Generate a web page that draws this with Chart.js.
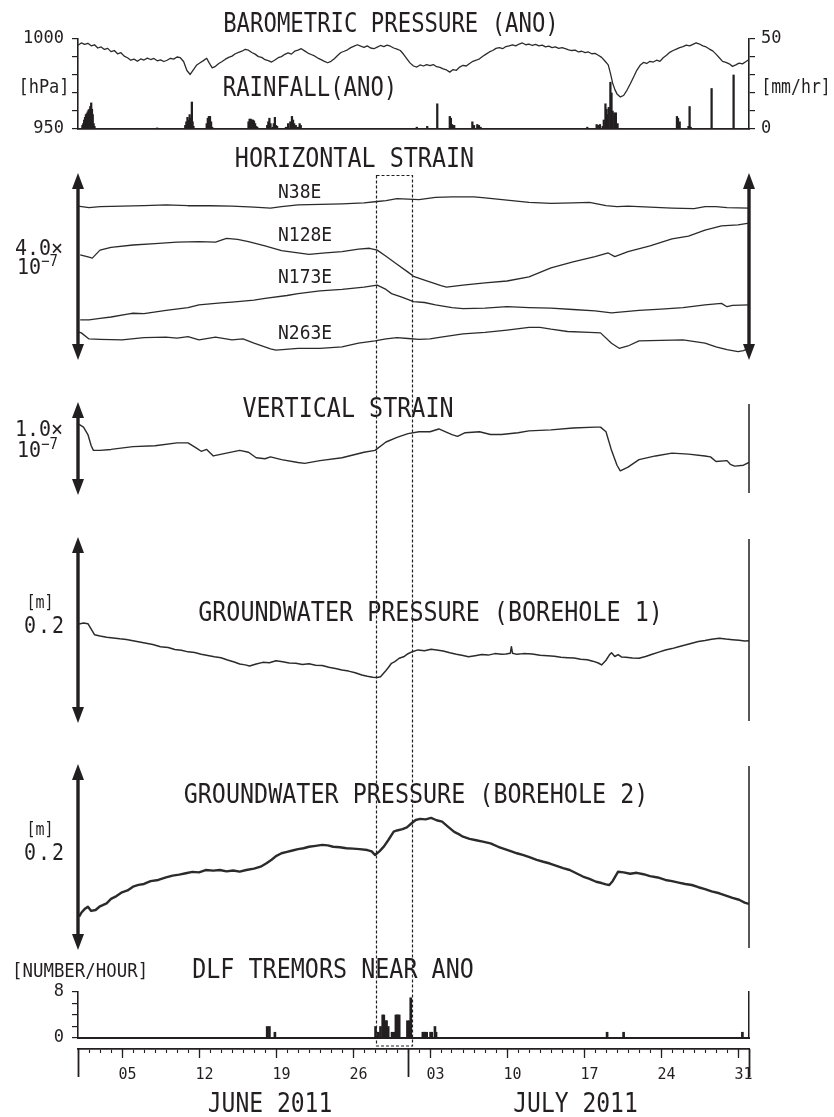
<!DOCTYPE html>
<html><head><meta charset="utf-8">
<script src="https://cdn.jsdelivr.net/npm/chart.js@4"></script>
<style>
html,body{margin:0;padding:0;background:#fff;}
#page{position:relative;width:834px;height:1117px;overflow:hidden;background:#fff;}
canvas{position:absolute;left:0;}
.t{position:absolute;font-family:'DejaVu Sans Mono',monospace;color:#231f20;white-space:nowrap;line-height:1;}
.c{transform:translate(-50%,-50%) scaleY(1.16);}
.l{transform:translate(0,-50%) scaleY(1.08);}
sup{font-size:0.7em;vertical-align:0.55em;}
</style></head>
<body><div id="page">
<canvas id="cTop" width="834" height="150" style="top:0"></canvas>
<canvas id="cHs" width="834" height="230" style="top:140px"></canvas>
<canvas id="cVs" width="834" height="130" style="top:375px"></canvas>
<canvas id="cGw1" width="834" height="215" style="top:520px"></canvas>
<canvas id="cGw2" width="834" height="220" style="top:740px"></canvas>
<canvas id="cTr" width="834" height="100" style="top:960px"></canvas>
<canvas id="cAxMinor" width="834" height="77" style="top:1040px"></canvas>
<canvas id="cAxMajor" width="834" height="77" style="top:1040px"></canvas>
<canvas id="cAxLong" width="834" height="77" style="top:1040px"></canvas>

<div class="t c" style="left:391px;top:23px;font-size:22.3px">BAROMETRIC PRESSURE (ANO)</div>
<div class="t c" style="left:310px;top:87px;font-size:22.3px">RAINFALL(ANO)</div>
<div class="t c" style="left:44px;top:87px;font-size:17px">[hPa]</div>
<div class="t c" style="left:796px;top:87px;font-size:16.5px">[mm/hr]</div>

<div class="t c" style="left:354.5px;top:159px;font-size:23.4px">HORIZONTAL STRAIN</div>
<div class="t l" style="left:278px;top:192px;font-size:18px">N38E</div>
<div class="t l" style="left:278px;top:235px;font-size:18px">N128E</div>
<div class="t l" style="left:278px;top:277px;font-size:18px">N173E</div>
<div class="t l" style="left:278px;top:333px;font-size:18px">N263E</div>
<div class="t l" style="left:15px;top:247px;font-size:20px">4.0×</div>
<div class="t l" style="left:17px;top:265px;font-size:20px">10<sup>−7</sup></div>

<div class="t c" style="left:348px;top:408.5px;font-size:23.4px">VERTICAL STRAIN</div>
<div class="t l" style="left:15px;top:428px;font-size:20px">1.0×</div>
<div class="t l" style="left:17px;top:448px;font-size:20px">10<sup>−7</sup></div>

<div class="t c" style="left:430.5px;top:613px;font-size:23.4px">GROUNDWATER PRESSURE (BOREHOLE 1)</div>
<div class="t c" style="left:40px;top:603px;font-size:15px">[m]</div>
<div class="t c" style="left:45px;top:625px;font-size:20px;letter-spacing:2px">0.2</div>

<div class="t c" style="left:416px;top:795px;font-size:23.4px">GROUNDWATER PRESSURE (BOREHOLE 2)</div>
<div class="t c" style="left:40px;top:830px;font-size:15px">[m]</div>
<div class="t c" style="left:45px;top:852px;font-size:20px;letter-spacing:2px">0.2</div>

<div class="t l" style="left:12px;top:970.5px;font-size:17.4px">[NUMBER/HOUR]</div>
<div class="t c" style="left:333px;top:970px;font-size:23.4px">DLF TREMORS NEAR ANO</div>

<div class="t c" style="left:270px;top:1103px;font-size:23px">JUNE 2011</div>
<div class="t c" style="left:575.5px;top:1103px;font-size:23px">JULY 2011</div>

<canvas id="boxLayer" width="834" height="1117" style="top:0;pointer-events:none"></canvas>
</div>
<script>
// ---------------- DATA (time in days since 2011-06-01 00:00) ----------------
const X_MIN = 0, X_MAX = 61;
const majorTickDays = [4, 11, 18, 25, 32, 39, 46, 53, 60];
const majorTickLabels = ['05', '12', '19', '26', '03', '10', '17', '24', '31'];
const monthBoundaryDays = [0, 30, 61];
const pressureTickValues = [950, 960, 970, 980, 990, 1000];
const pressureTickLabels = ['950', '', '', '', '', '1000'];
const rainTickValues = [0, 10, 20, 30, 40, 50];
const rainTickLabels = ['0', '', '', '', '', '50'];
const tremorTickValues = [0, 2, 4, 6, 8];
const tremorTickLabels = ['0', '', '', '', '8'];
const boxStartDay = 27.1, boxEndDay = 30.4;

// barometric pressure [day, hPa]
const baroPressure = [[0.0,996.5],[0.3,997.8],[0.6,997.0],[0.9,997.6],[1.2,996.2],[1.5,996.8],[1.8,995.0],[2.1,995.6],[2.4,994.2],[2.7,994.8],[3.0,993.0],[3.3,993.6],[3.6,991.8],[3.9,992.4],[4.2,990.5],[4.5,989.6],[4.8,988.2],[5.1,988.8],[5.4,987.6],[5.7,988.9],[6.0,988.3],[6.3,989.4],[6.6,988.6],[6.9,989.2],[7.2,987.9],[7.5,988.4],[7.8,987.5],[8.1,988.2],[8.4,989.3],[8.7,988.8],[9.0,990.0],[9.3,989.6],[9.6,987.5],[9.9,982.5],[10.2,980.3],[10.5,983.0],[10.8,985.6],[11.1,986.8],[11.4,988.0],[11.7,989.3],[11.9,987.0],[12.2,984.0],[12.5,984.8],[12.8,986.4],[13.1,987.5],[13.4,988.8],[13.7,989.8],[14.0,990.5],[14.3,991.8],[14.6,992.6],[14.9,993.2],[15.2,994.3],[15.5,993.8],[15.8,992.5],[16.1,991.6],[16.4,990.2],[16.7,989.8],[17.0,988.5],[17.3,988.0],[17.6,987.2],[17.9,988.3],[18.2,989.6],[18.5,990.2],[18.8,991.5],[19.1,992.3],[19.4,991.6],[19.7,993.2],[20.0,993.8],[20.3,994.6],[20.6,993.4],[20.9,992.2],[21.2,991.4],[21.5,990.6],[21.8,989.4],[22.1,988.5],[22.4,987.6],[22.7,986.8],[23.0,987.6],[23.3,989.0],[23.6,990.8],[23.9,992.5],[24.2,993.2],[24.5,994.0],[24.8,995.2],[25.1,996.0],[25.4,996.8],[25.7,996.0],[26.0,995.4],[26.3,996.2],[26.6,995.0],[26.9,994.6],[27.2,995.5],[27.5,996.4],[27.8,995.8],[28.1,996.6],[28.4,996.0],[28.7,995.0],[29.0,994.4],[29.3,993.6],[29.6,991.5],[29.9,989.0],[30.2,986.6],[30.5,985.0],[30.8,984.4],[31.1,985.6],[31.4,985.0],[31.7,985.8],[32.0,985.2],[32.3,985.8],[32.6,984.6],[32.9,984.2],[33.2,983.4],[33.5,982.8],[33.8,981.6],[34.1,983.0],[34.4,982.6],[34.7,984.4],[35.0,985.4],[35.3,985.0],[35.6,986.4],[35.9,987.6],[36.2,988.2],[36.5,989.0],[36.8,990.4],[37.1,991.6],[37.4,992.8],[37.7,993.6],[38.0,994.8],[38.3,995.2],[38.6,994.6],[38.9,995.8],[39.2,996.2],[39.5,996.8],[39.8,996.2],[40.1,997.2],[40.4,997.8],[40.7,996.8],[41.0,997.2],[41.3,996.4],[41.6,997.0],[41.9,996.2],[42.2,996.6],[42.5,995.6],[42.8,996.0],[43.1,995.2],[43.4,995.6],[43.7,994.8],[44.0,995.2],[44.3,994.6],[44.6,994.0],[44.9,993.6],[45.2,993.8],[45.5,992.8],[45.8,993.2],[46.1,992.4],[46.4,992.8],[46.7,991.8],[47.0,992.0],[47.3,991.0],[47.6,989.8],[47.9,987.8],[48.2,985.6],[48.4,981.0],[48.6,975.6],[48.8,972.0],[49.0,969.5],[49.3,967.8],[49.6,968.6],[49.9,971.5],[50.2,975.0],[50.5,978.8],[50.8,982.6],[51.1,985.4],[51.4,987.0],[51.7,986.4],[52.0,987.6],[52.3,987.2],[52.6,988.2],[52.9,987.6],[53.2,989.6],[53.5,991.0],[53.8,992.6],[54.1,993.6],[54.4,994.4],[54.7,995.2],[55.0,995.8],[55.3,996.6],[55.6,996.2],[55.9,997.0],[56.2,997.8],[56.5,997.2],[56.8,996.2],[57.1,995.6],[57.4,994.4],[57.7,993.4],[58.0,991.6],[58.3,989.6],[58.6,987.6],[58.9,987.0],[59.2,986.2],[59.5,984.8],[59.8,985.6],[60.1,986.6],[60.4,986.2],[60.7,987.4],[61.0,988.6]];

// hourly rainfall [day, mm/hr]
const rainfall = [[0.40,2],[0.48,3],[0.56,5],[0.64,6.5],[0.72,8],[0.80,8.5],[0.88,9.5],[0.96,10.5],[1.04,11],[1.12,12.5],[1.20,14.5],[1.27,11],[1.34,8],[1.42,3],[1.50,1.5],
 [7.2,0.6],
 [9.75,2],[9.85,4],[9.95,6.5],[10.05,5],[10.15,8],[10.25,6],[10.35,15],[10.42,4],[10.5,1.5],
 [11.7,3],[11.8,6],[11.9,7],[12.0,7],[12.1,4],[12.2,1],
 [15.5,4],[15.6,5.5],[15.7,5.5],[15.8,5],[15.9,5],[16.0,4.5],[16.1,3],[16.2,1.5],[16.3,1],
 [17.2,2],[17.3,4],[17.4,6],[17.5,3],[17.7,1],[17.8,3],[17.9,6.5],[18.0,2],[18.1,1.5],
 [18.9,1],[19.1,3],[19.3,4],[19.45,7],[19.55,5],[19.65,3],[19.8,2],[20.0,1],[20.15,3],[20.25,2],
 [30.8,1],[31.75,1.5],[32.66,14],
 [33.8,7],[33.9,6],[34.0,2.5],[34.1,2],[34.2,2],
 [35.85,4],[36.0,2],[36.3,2.5],[36.45,2],[36.6,1],
 [46.3,1],[47.15,2.5],[47.3,2],[47.45,2.5],
 [47.7,1.5],[47.8,5],[47.95,14],[48.05,11],[48.15,8],[48.25,12],[48.4,26],[48.5,20],[48.6,10],[48.75,9],[48.9,9],[49.05,3],
 [54.45,7],[54.55,6],[54.7,4],[55.5,1.5],[55.6,12.5],[55.7,1],
 [57.6,22.5],[59.6,30]];

// horizontal strain components [day, strain x1e-7, panel offset]
const strainN38E = [[0,3.29],[1,3.26],[2,3.28],[4,3.29],[6,3.30],[8,3.32],[10,3.30],[12,3.30],[14,3.29],[16,3.27],[17.5,3.25],[18.5,3.28],[20,3.32],[22,3.33],[24,3.34],[26,3.36],[27.2,3.39],[28,3.41],[29,3.45],[30,3.44],[31,3.43],[32.5,3.48],[34,3.49],[36,3.49],[37,3.47],[39,3.42],[41,3.37],[43,3.35],[45,3.36],[46.5,3.37],[48,3.30],[49,3.28],[50,3.29],[52,3.27],[54,3.25],[56,3.24],[57,3.28],[58,3.28],[59,3.26],[61,3.25]];
const strainN128E = [[0.2,2.25],[1,2.20],[1.3,2.18],[2,2.35],[3,2.41],[5,2.46],[7,2.49],[9,2.52],[11,2.53],[12.5,2.52],[13.5,2.60],[14.5,2.58],[15.5,2.53],[17,2.44],[18.5,2.34],[20,2.29],[21,2.26],[22.5,2.29],[24,2.32],[25.5,2.37],[26.5,2.39],[27.2,2.35],[28,2.22],[29,2.05],[30,1.88],[30.5,1.79],[31.5,1.71],[33,1.59],[33.5,1.56],[35,1.60],[37,1.65],[39,1.69],[41,1.78],[43,1.97],[45,2.10],[47,2.21],[48.2,2.29],[48.8,2.21],[50,2.32],[52,2.44],[54,2.59],[55.5,2.65],[57,2.78],[58.5,2.87],[60,2.89],[61,2.93]];
const strainN173E = [[0.2,0.86],[1,0.86],[2,0.89],[3,0.92],[4.5,0.98],[5,1.00],[6,0.99],[8,1.06],[10,1.12],[11,1.18],[13,1.22],[14,1.24],[16,1.28],[17,1.32],[19,1.38],[20,1.42],[22,1.48],[24,1.51],[26,1.56],[27.2,1.60],[28,1.51],[28.5,1.42],[29.5,1.34],[30.5,1.25],[31.5,1.23],[32.5,1.18],[34,1.12],[35,1.10],[37,1.11],[39,1.14],[41,1.12],[43,1.11],[45,1.08],[47,1.05],[48.5,1.01],[49.5,1.03],[51,1.06],[53,1.09],[55,1.12],[57,1.18],[58.5,1.21],[59,1.14],[59.5,1.17],[61,1.18]];
const strainN263E = [[0,0.60],[0.3,0.58],[1,0.45],[2,0.44],[4,0.43],[6,0.48],[8,0.49],[9,0.47],[10,0.50],[11,0.43],[12.5,0.49],[14,0.43],[15,0.45],[16,0.36],[17.5,0.24],[18,0.21],[20,0.25],[22,0.25],[24,0.28],[25.5,0.36],[27,0.41],[28,0.45],[29,0.48],[30,0.46],[31,0.44],[32,0.45],[33,0.49],[35,0.56],[37,0.59],[39,0.64],[41,0.70],[42,0.70],[43,0.66],[44.5,0.61],[46.5,0.59],[47.5,0.58],[48.5,0.36],[49.2,0.25],[50,0.30],[51,0.41],[53,0.42],[55,0.43],[57,0.36],[58,0.28],[59,0.22],[60,0.18],[60.5,0.20],[61,0.25]];

// vertical strain [day, x1e-7]
const strainVertical = [[0.1,0.76],[0.5,0.73],[0.9,0.65],[1.2,0.53],[1.4,0.48],[2,0.48],[3,0.49],[5,0.52],[7,0.53],[9,0.56],[10,0.56],[10.7,0.51],[11.2,0.47],[11.7,0.49],[12.3,0.42],[13.5,0.45],[14.7,0.48],[15.5,0.46],[16.2,0.40],[17,0.39],[17.5,0.41],[18.5,0.38],[20,0.35],[20.6,0.34],[22,0.37],[24,0.40],[26,0.46],[27,0.48],[28,0.57],[29,0.62],[30,0.66],[31,0.68],[32,0.68],[32.8,0.71],[34,0.65],[34.5,0.63],[35.2,0.67],[36.5,0.68],[37.5,0.65],[38.5,0.65],[40,0.67],[41,0.69],[43,0.70],[45,0.72],[47,0.73],[47.5,0.73],[48,0.68],[48.5,0.48],[49,0.32],[49.3,0.26],[50,0.30],[51,0.38],[52.5,0.42],[54,0.45],[55.5,0.44],[57,0.42],[57.5,0.41],[58,0.36],[59,0.37],[59.3,0.33],[59.7,0.31],[60.5,0.32],[61,0.35]];

// groundwater pressure [day, mm]
const gwBorehole1 = [[0.1,106.5],[0.5,107.5],[0.9,106.8],[1.2,101],[1.5,95],[2.0,93.5],[2.6,92.2],[3.2,91.5],[3.8,90.5],[4.4,89.8],[5.0,88.5],[5.6,87.2],[6.2,85.8],[6.8,84.5],[7.5,82.0],[8.2,81.2],[8.8,79.0],[9.4,78.2],[10.0,76.5],[10.6,75.8],[11.2,74.0],[11.8,72.6],[12.4,71.3],[13.0,70.2],[13.6,67.8],[14.2,65.6],[14.7,63.4],[15.2,62.5],[15.6,61.3],[16.2,63.5],[16.8,65.2],[17.4,64.8],[18.0,67.0],[18.6,65.8],[19.2,64.6],[19.8,64.2],[20.4,63.0],[21.0,63.6],[21.6,62.2],[22.2,61.8],[22.8,60.0],[23.4,58.6],[24.0,57.0],[24.6,55.8],[25.2,54.0],[25.8,51.6],[26.3,50.2],[26.8,49.1],[27.2,49.0],[27.5,49.8],[27.9,55.0],[28.2,59.5],[28.5,64.2],[28.8,66.0],[29.2,69.6],[29.6,71.2],[30.0,74.5],[30.4,76.7],[30.9,78.6],[31.5,77.8],[32.1,79.2],[32.6,78.5],[33.2,77.4],[33.8,75.6],[34.4,74.0],[35.0,72.6],[35.5,71.3],[36.1,72.4],[36.7,73.6],[37.3,73.0],[37.9,74.6],[38.5,74.0],[38.9,74.2],[39.3,75.0],[39.4,82.0],[39.5,75.0],[39.9,73.8],[40.5,74.6],[41.3,74.2],[42.0,72.8],[42.7,72.2],[43.3,71.8],[43.9,70.6],[44.5,70.2],[45.1,69.8],[45.7,68.5],[46.3,68.0],[46.8,66.5],[47.3,64.5],[47.6,62.4],[48.0,67.5],[48.3,73.0],[48.5,75.6],[48.8,71.5],[49.1,73.6],[49.4,71.0],[49.8,70.6],[50.4,69.8],[51.0,69.6],[51.6,71.5],[52.2,74.0],[52.8,76.2],[53.4,78.5],[54.0,80.0],[54.6,82.0],[55.2,83.8],[55.8,85.7],[56.4,87.6],[57.0,88.6],[57.6,90.0],[58.3,91.1],[58.9,90.2],[59.5,89.6],[60.1,89.0],[60.6,88.2],[61.0,88.5]];
const gwBorehole2 = [[0.1,36],[0.3,40],[0.6,44],[0.9,46.6],[1.2,42],[1.6,43.0],[2.0,47],[2.6,50.2],[3.0,55],[3.5,58],[4.0,62],[4.5,64],[5.0,68.1],[5.5,70],[6.0,71],[6.6,74],[7.3,75.3],[8.0,78],[8.6,80],[9.2,81],[9.8,82.5],[10.4,84],[11.0,83.5],[11.6,86],[12.3,85.3],[12.9,86],[13.5,84.5],[14.1,85.5],[14.7,84.2],[15.3,86],[16.0,87.5],[16.6,89.6],[17.1,93],[17.6,97],[18.0,101],[18.5,104.0],[19.0,105.5],[19.5,107],[20.0,108.5],[20.5,109.4],[21.0,111],[21.6,112],[22.2,113],[22.7,112.5],[23.2,111],[23.8,110.5],[24.4,109.4],[25.0,109],[25.6,108.5],[26.3,107.5],[26.7,106],[27.0,102.2],[27.4,106],[27.8,111.1],[28.2,118],[28.7,127.2],[29.0,128.5],[29.5,130],[29.9,131.9],[30.3,136],[30.7,139.8],[31.1,141],[31.6,140.5],[32.1,142],[32.6,139.5],[33.1,138.0],[33.6,133],[34.2,127],[34.7,124],[35.0,121.8],[35.6,119.5],[36.2,118],[36.8,116.5],[37.5,114.7],[38.2,111],[38.8,108.5],[39.4,106],[39.9,104.0],[40.5,102],[41.1,99.5],[41.7,97],[42.3,94.9],[42.9,93],[43.5,90.5],[44.1,88],[44.7,86.0],[45.3,82.5],[45.9,79],[46.5,76.5],[47.1,73.4],[47.6,72],[48.0,70.5],[48.3,69.9],[48.6,74],[49.1,84.2],[49.6,83.5],[50.2,82],[50.8,83],[51.4,81.5],[52.0,79.5],[52.7,78],[53.4,75.3],[54.0,74],[54.6,72.5],[55.2,71],[55.8,69.9],[56.4,67.5],[57.0,65.5],[57.6,63],[58.3,61.0],[58.9,58.5],[59.5,56],[60.1,54],[60.6,51],[61.0,49.5]];

// DLF tremors [day, number/hour]
const tremorRate = [[17.2,2],[17.4,2],[17.9,1],
 [27.05,2],[27.3,1],[27.5,2],[27.7,4],[27.8,4],[27.95,3],[28.05,3],[28.2,2],[28.55,1],[28.75,1],[28.9,4],[29.0,4],[29.1,4],[29.2,4],[29.95,3],[30.1,3],[30.25,7],
 [31.35,1],[31.45,1],[31.55,1],[31.7,1],[32.05,1],[32.15,1],[32.45,2],[32.55,1],
 [48.1,1],[49.6,1],[60.4,1]];

// ---------------- STYLE / LAYOUT ----------------
const INK = '#231f20';
const TRACE = '#2b2b2b';
const PLOT_LEFT = 78, PLOT_RIGHT = 749, PAGE_W = 834;

Chart.defaults.font.family = "'DejaVu Sans Mono', monospace";
Chart.defaults.color = INK;
Chart.defaults.animation = false;
Chart.defaults.responsive = false;
Chart.defaults.devicePixelRatio = 1;
Chart.defaults.events = [];
Chart.defaults.plugins.legend.display = false;
Chart.defaults.plugins.tooltip.enabled = false;
if (Chart.defaults.plugins.colors) Chart.defaults.plugins.colors.enabled = false;
Chart.defaults.elements.point.radius = 0;
Chart.defaults.elements.line.borderWidth = 1.3;
Chart.defaults.elements.line.borderColor = TRACE;
Chart.defaults.elements.line.tension = 0;
Chart.defaults.elements.line.borderJoinStyle = 'round';

const xy = arr => arr.map(([x, y]) => ({x, y}));
const trace = (arr, width) => ({data: xy(arr), borderColor: TRACE, backgroundColor: TRACE, borderWidth: width || 1.3});

const sideMarks = {
  id: 'sideMarks',
  afterDraw(chart, args, opts) {
    const {ctx, chartArea: a} = chart;
    ctx.save();
    ctx.strokeStyle = INK; ctx.fillStyle = INK;
    const draw = (x, kind) => {
      if (kind === 'arrow') {
        ctx.lineWidth = 3.4;
        ctx.beginPath(); ctx.moveTo(x, a.top + 10); ctx.lineTo(x, a.bottom - 10); ctx.stroke();
        ctx.beginPath(); ctx.moveTo(x, a.top); ctx.lineTo(x - 6, a.top + 16); ctx.lineTo(x + 6, a.top + 16); ctx.closePath(); ctx.fill();
        ctx.beginPath(); ctx.moveTo(x, a.bottom); ctx.lineTo(x - 6, a.bottom - 16); ctx.lineTo(x + 6, a.bottom - 16); ctx.closePath(); ctx.fill();
      } else if (kind === 'line') {
        ctx.lineWidth = 1.5;
        ctx.beginPath(); ctx.moveTo(x, a.top + 2); ctx.lineTo(x, a.bottom - 2); ctx.stroke();
      }
    };
    draw(a.left, opts.left); draw(a.right, opts.right);
    ctx.restore();
  }
};

function hiddenX() { return {type: 'linear', min: X_MIN, max: X_MAX, display: false, offset: false}; }

function panelChart(id, datasets, yMin, yMax, padTop, padBottom, sides) {
  return new Chart(document.getElementById(id), {
    type: 'line',
    data: {datasets},
    options: {
      layout: {padding: {left: PLOT_LEFT, right: PAGE_W - PLOT_RIGHT, top: padTop, bottom: padBottom}},
      scales: {x: hiddenX(), y: {type: 'linear', min: yMin, max: yMax, display: false}},
      plugins: {sideMarks: sides}
    },
    plugins: [sideMarks]
  });
}

function sideAxis(pos, min, max, values, labels, width, pad) {
  return {
    type: 'linear', position: pos, min, max,
    afterBuildTicks(s) { s.ticks = values.map(v => ({value: v})); },
    ticks: {autoSkip: false, padding: pad, font: {size: 17}, color: INK,
            callback: v => labels[values.indexOf(v)]},
    grid: {drawOnChartArea: false, tickLength: 6, color: INK, lineWidth: 1.2},
    border: {display: true, color: INK, width: 1.6},
    afterFit(s) { s.width = width; }
  };
}

// 1. Barometric pressure + rainfall
new Chart(document.getElementById('cTop'), {
  type: 'line',
  data: {datasets: [
    Object.assign(trace(baroPressure), {type: 'line', yAxisID: 'yP', order: 1}),
    {type: 'bar', data: xy(rainfall), yAxisID: 'yR', backgroundColor: INK, borderColor: INK, barThickness: 1.6, order: 2}
  ]},
  options: {
    layout: {padding: {left: 0, right: 0, top: 39, bottom: 0}},
    scales: {
      x: {type: 'linear', min: X_MIN, max: X_MAX, offset: false, grid: {display: false, offset: false},
          ticks: {display: false}, border: {display: true, color: INK, width: 1.8},
          afterFit(s) { s.height = 21; }},
      yP: sideAxis('left', 950, 1000, pressureTickValues, pressureTickLabels, PLOT_LEFT, 8),
      yR: sideAxis('right', 0, 50, rainTickValues, rainTickLabels, PAGE_W - PLOT_RIGHT, 6)
    }
  }
});

// 2. Horizontal strain (arrow = 4.0e-7)
const hsChart = panelChart('cHs', [
  trace(strainN38E), trace(strainN128E), trace(strainN173E), trace(strainN263E)
], 0, 4, 33, 10, {left: 'arrow', right: 'arrow'});

// 3. Vertical strain (arrow = 1.0e-7)
panelChart('cVs', [trace(strainVertical, 1.4)], 0, 1, 27, 10, {left: 'arrow', right: 'line'});

// 4-5. Groundwater pressure (arrow = 0.2 m = 200 mm)
panelChart('cGw1', [trace(gwBorehole1, 1.5)], 0, 200, 17, 12, {left: 'arrow', right: 'line'});
panelChart('cGw2', [trace(gwBorehole2, 2.4)], 0, 200, 24, 10, {left: 'arrow', right: 'line'});

// 6. DLF tremors
new Chart(document.getElementById('cTr'), {
  type: 'line',
  data: {datasets: [{type: 'bar', data: xy(tremorRate), backgroundColor: INK, borderColor: INK, barThickness: 2}]},
  options: {
    layout: {padding: {left: 0, right: 0, top: 32, bottom: 0}},
    scales: {
      x: {type: 'linear', min: X_MIN, max: X_MAX, offset: false, grid: {display: false, offset: false},
          ticks: {display: false}, border: {display: true, color: INK, width: 2},
          afterFit(s) { s.height = 22; }},
      y: sideAxis('left', 0, 8, tremorTickValues, tremorTickLabels, PLOT_LEFT, 8),
      yEdge: {type: 'linear', position: 'right', min: 0, max: 8, grid: {display: false},
              ticks: {display: false}, border: {display: true, color: INK, width: 1.5},
              afterFit(s) { s.width = PAGE_W - PLOT_RIGHT; }}
    }
  }
});

// 7. Time axis (three overlaid layers: daily ticks, weekly labelled ticks, month boundaries)
function axisLayer(id, xExtra) {
  return new Chart(document.getElementById(id), {
    type: 'line',
    data: {datasets: []},
    options: {
      layout: {padding: {left: PLOT_LEFT, right: PAGE_W - PLOT_RIGHT, top: 0, bottom: 0}},
      scales: {
        x: Object.assign({type: 'linear', position: 'bottom', min: X_MIN, max: X_MAX, offset: false,
                          afterFit(s) { s.height = 68; }}, xExtra),
        y: {display: false, min: 0, max: 1}
      }
    }
  });
}
axisLayer('cAxMinor', {
  grid: {drawOnChartArea: false, tickLength: 4, tickColor: INK, tickWidth: 1.1},
  border: {display: true, color: INK, width: 1.8},
  ticks: {stepSize: 1, autoSkip: false, maxRotation: 0, minRotation: 0, callback: () => ''}
});
axisLayer('cAxMajor', {
  afterBuildTicks(s) { s.ticks = majorTickDays.map(v => ({value: v})); },
  grid: {drawOnChartArea: false, tickLength: 9, tickColor: INK, tickWidth: 1.3},
  border: {display: false},
  ticks: {autoSkip: false, maxRotation: 0, minRotation: 0, labelOffset: 5.5, padding: 8,
          font: {size: 15}, color: INK, callback: v => majorTickLabels[majorTickDays.indexOf(v)]}
});
axisLayer('cAxLong', {
  afterBuildTicks(s) { s.ticks = monthBoundaryDays.map(v => ({value: v})); },
  grid: {drawOnChartArea: false, tickLength: 28, tickColor: INK, tickWidth: 1.8},
  border: {display: false},
  ticks: {autoSkip: false, maxRotation: 0, minRotation: 0, callback: () => ''}
});

// dashed window (June 28 - July 1) spanning all panels
(function () {
  const xs = hsChart.scales.x;
  const x1 = Math.round(xs.getPixelForValue(boxStartDay)) + 0.5;
  const x2 = Math.round(xs.getPixelForValue(boxEndDay)) + 0.5;
  const ctx = document.getElementById('boxLayer').getContext('2d');
  ctx.strokeStyle = INK; ctx.lineWidth = 1.2; ctx.setLineDash([3, 2]);
  ctx.strokeRect(x1, 175.5, x2 - x1, 1046 - 175.5);
})();
</script>
</body></html>
